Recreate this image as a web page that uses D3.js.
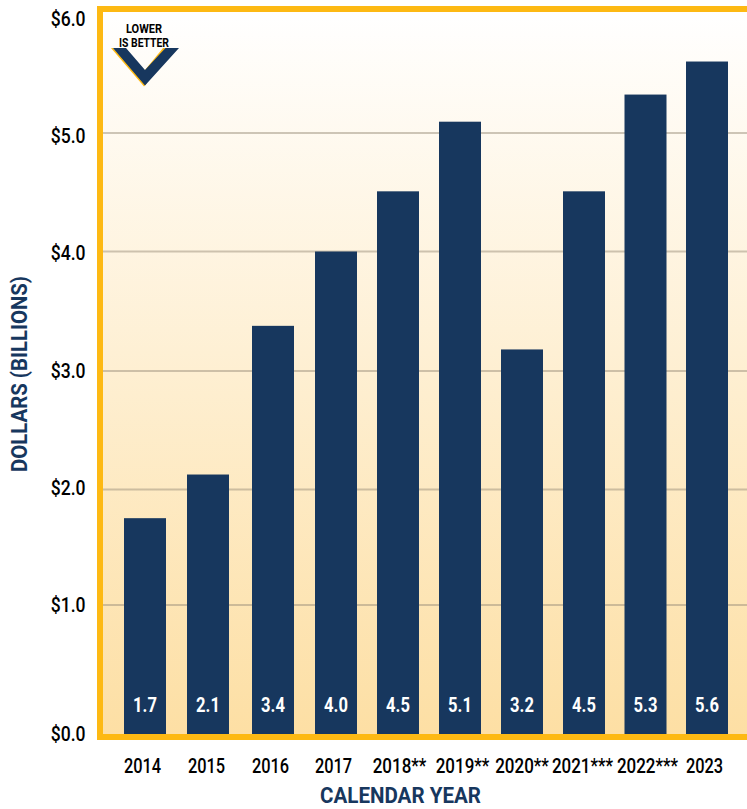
<!DOCTYPE html>
<html><head><meta charset="utf-8">
<script src="https://cdn.jsdelivr.net/npm/d3@7"></script>
<style>html,body{margin:0;background:#fff}svg{display:block}text{font-family:Roboto,sans-serif}</style>
</head><body><svg id="c" width="747" height="809"></svg>
<script>
const years=["2014","2015","2016","2017","2018**","2019**","2020**","2021***","2022***","2023"];
const values=[1.74,2.11,3.37,4.0,4.51,5.1,3.17,4.51,5.33,5.61];
const valueLabels=["1.7","2.1","3.4","4.0","4.5","5.1","3.2","4.5","5.3","5.6"];
const yTicks=[0,1,2,3,4,5,6];
const gridTicks=[1,2,3,4,5];
const NAVY="#17375e",GOLD="#fdb913";
const svg=d3.select("#c");
const defs=svg.append("defs");
const g=defs.append("linearGradient").attr("id","bg").attr("x1",0).attr("x2",0).attr("y1",0).attr("y2",1);
g.append("stop").attr("offset",0).attr("stop-color","#ffffff");
g.append("stop").attr("offset",1).attr("stop-color","#fddfa4");

// narrow every text to the condensed look of the reference
function squeeze(sel,k){sel.each(function(){const n=this.getComputedTextLength();
  d3.select(this).attr("textLength",n*(typeof k==="function"?k(this.textContent):k)).attr("lengthAdjust","spacingAndGlyphs");});}

const pLeft=103,pTop=12,pBottom=734,pRight=747;
const y=d3.scaleLinear().domain([0,6]).range([723.5,15.5]);
const yAxisScale=d3.scaleLinear().domain([0,1,6]).range([733,604.5,18.5]);
const yGrid=d3.scaleLinear().domain(gridTicks).range([605,489.5,371,251.5,133]);
const x=d3.scaleLinear().domain([0,1,2,3,7,9]).range([124,187,252,315,563,686]);
const xLab=d3.scaleLinear().domain(d3.range(10)).range([142,206,270,333,399,462,521.5,582,647,704]);
const bw=42;

svg.append("rect").attr("x",pLeft).attr("y",pTop).attr("width",pRight-pLeft).attr("height",pBottom-pTop).attr("fill","url(#bg)");

svg.append("g").selectAll("line").data(gridTicks).join("line")
 .attr("x1",pLeft).attr("x2",pRight).attr("y1",d=>yGrid(d)).attr("y2",d=>yGrid(d))
 .attr("stroke","#9c8f7c").attr("stroke-opacity",0.5).attr("stroke-width",2);

svg.append("g").selectAll("rect").data(values).join("rect")
 .attr("x",(d,i)=>x(i)).attr("width",bw).attr("y",d=>y(d)).attr("height",d=>pBottom-y(d)).attr("fill",NAVY);

svg.append("g").selectAll("text").data(valueLabels).join("text")
 .attr("x",(d,i)=>x(i)+bw/2).attr("y",712).attr("text-anchor","middle")
 .attr("fill","#fff").attr("font-size",19.5).attr("font-weight",700).text(d=>d).call(squeeze,0.85);

svg.append("path").attr("d",`M${pRight+5},9H100V737H${pRight+5}`).attr("fill","none").attr("stroke",GOLD).attr("stroke-width",6);

const ya=svg.append("g").attr("transform","translate(85.5,0)")
 .call(d3.axisLeft(yAxisScale).tickValues(yTicks).tickSize(0).tickPadding(0).tickFormat(d=>"$"+d.toFixed(1)));
ya.select(".domain").remove();
ya.selectAll("text").attr("font-size",19.5).attr("font-weight",500).attr("fill","#000").style("font-family","Roboto").attr("dy","0.36em").call(squeeze,0.9);

const xa=svg.append("g").attr("transform","translate(0,773)")
 .call(d3.axisBottom(xLab).tickValues(d3.range(years.length)).tickSize(0).tickPadding(0).tickFormat(i=>years[i]));
xa.select(".domain").remove();
xa.selectAll("text").attr("font-size",19.5).attr("font-weight",500).attr("fill","#000").attr("dy",0).attr("y",0).style("font-family","Roboto")
 .call(squeeze,t=>t.includes("*")?0.87:0.84);

svg.append("text").attr("x",400.5).attr("y",803).attr("text-anchor","middle").attr("font-size",22.5).attr("font-weight",700).attr("fill",NAVY)
 .attr("textLength",161).attr("lengthAdjust","spacingAndGlyphs").text("CALENDAR YEAR");
svg.append("text").attr("transform","translate(26.5,374) rotate(-90)").attr("text-anchor","middle").attr("font-size",22.5).attr("font-weight",700).attr("fill",NAVY)
 .attr("textLength",196).attr("lengthAdjust","spacingAndGlyphs").text("DOLLARS (BILLIONS)");

const b=svg.append("g");
b.append("path").attr("d","M111,48L144,86.5L147,83L113,48Z").attr("fill",GOLD);
b.append("path").attr("d","M145,70L163,48H166L146,72Z").attr("fill",GOLD);
b.append("path").attr("d","M113,48H126L145,70L165.5,48H179L145,85.5Z").attr("fill",NAVY);
b.append("text").attr("x",144).attr("y",33).attr("text-anchor","middle").attr("font-size",12.5).attr("font-weight",700).attr("fill","#000").attr("textLength",36).attr("lengthAdjust","spacingAndGlyphs").text("LOWER");
b.append("text").attr("x",144).attr("y",47).attr("text-anchor","middle").attr("font-size",12.5).attr("font-weight",700).attr("fill","#000").attr("textLength",50).attr("lengthAdjust","spacingAndGlyphs").text("IS BETTER");
</script></body></html>
